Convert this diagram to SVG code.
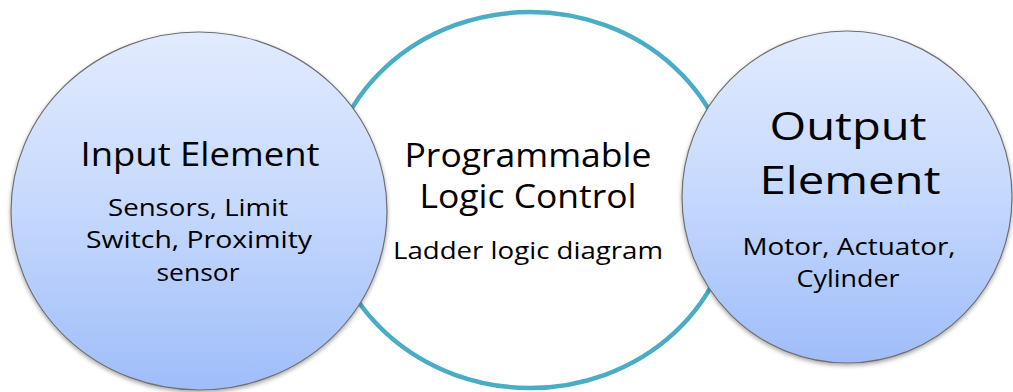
<svg xmlns="http://www.w3.org/2000/svg" width="1013" height="392" viewBox="0 0 1013 392">
  <defs>
    <linearGradient id="bubbleFill" x1="0" y1="0" x2="0" y2="1">
      <stop offset="0" stop-color="#e2ebfe"/>
      <stop offset="0.5" stop-color="#c5d8fd"/>
      <stop offset="1" stop-color="#9fbdfa"/>
    </linearGradient>
    <filter id="softShadow" x="-10%" y="-10%" width="120%" height="125%">
      <feDropShadow dx="0" dy="2" stdDeviation="2" flood-color="#000" flood-opacity="0.35"/>
    </filter>
    <style>
      .bubble { fill: url(#bubbleFill); stroke: #6f6f6f; stroke-width: 1.2; filter: url(#softShadow); }
      .ring { fill: #ffffff; stroke: #4bacc6; stroke-width: 4.5; }
      text { font-family: "Open Sans", "Liberation Sans", sans-serif; fill: #000; text-anchor: middle; }
      .title { font-size: 33.5px; }
      .big { font-size: 39px; }
      .sub { font-size: 24.5px; }
    </style>
  </defs>

  <!-- central PLC ring, drawn first so the side bubbles overlap it -->
  <g id="plc">
    <ellipse class="ring" cx="530" cy="200" rx="204" ry="188"/>
    <text class="title" x="528" y="167" textLength="247" lengthAdjust="spacingAndGlyphs">Programmable</text>
    <text class="title" x="528" y="208" textLength="217" lengthAdjust="spacingAndGlyphs">Logic Control</text>
    <text class="sub" x="528" y="259" textLength="270" lengthAdjust="spacingAndGlyphs">Ladder logic diagram</text>
  </g>

  <g id="connectors"></g>

  <g id="input">
    <ellipse class="bubble" cx="199" cy="211" rx="188" ry="179"/>
    <text class="title" x="200" y="166" textLength="239" lengthAdjust="spacingAndGlyphs">Input Element</text>
    <text class="sub" x="198" y="216" textLength="180" lengthAdjust="spacingAndGlyphs">Sensors, Limit</text>
    <text class="sub" x="199" y="248" textLength="226" lengthAdjust="spacingAndGlyphs">Switch, Proximity</text>
    <text class="sub" x="198" y="281" textLength="83" lengthAdjust="spacingAndGlyphs">sensor</text>
  </g>

  <g id="output">
    <ellipse class="bubble" cx="847" cy="197" rx="165" ry="166"/>
    <text class="big" x="848" y="140" textLength="157" lengthAdjust="spacingAndGlyphs">Output</text>
    <text class="big" x="850" y="194" textLength="181" lengthAdjust="spacingAndGlyphs">Element</text>
    <text class="sub" x="849" y="255" textLength="213" lengthAdjust="spacingAndGlyphs">Motor, Actuator,</text>
    <text class="sub" x="848" y="287" textLength="103" lengthAdjust="spacingAndGlyphs">Cylinder</text>
  </g>
</svg>
